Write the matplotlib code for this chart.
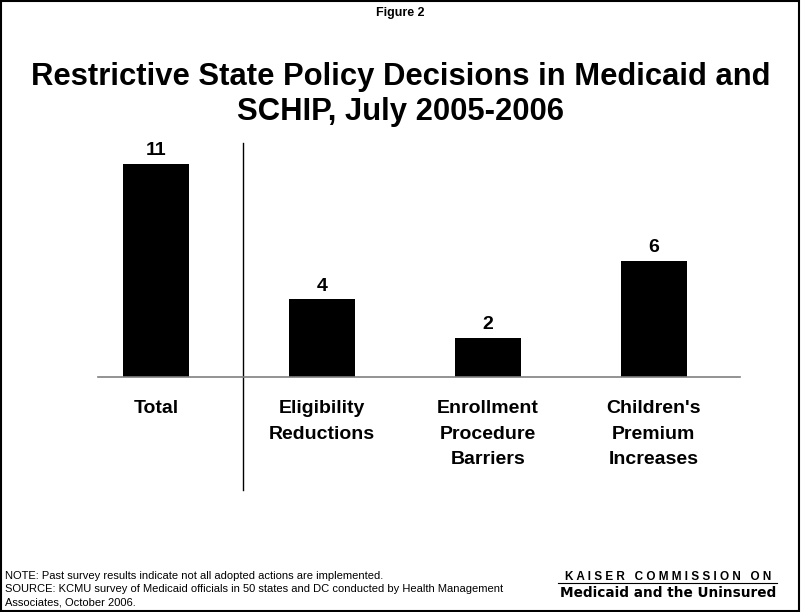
import matplotlib.pyplot as plt
from matplotlib.patches import Rectangle

categories = ["Total", "Eligibility\nReductions", "Enrollment\nProcedure\nBarriers",
              "Children's\nPremium\nIncreases"]
values = [11, 4, 2, 6]

plt.rcParams['font.family'] = ['Liberation Sans', 'DejaVu Sans']

fig = plt.figure(figsize=(8.01, 6.12), dpi=100)
fig.patches.append(Rectangle((0.001, 0.001), 0.997, 0.997, transform=fig.transFigure,
                             fill=False, edgecolor='black', linewidth=1.5))

fig.text(0.5, 0.979, "Figure 2", ha='center', va='center', fontsize=9, fontweight='bold')
fig.text(0.5, 0.846, "Restrictive State Policy Decisions in Medicaid and\nSCHIP, July 2005-2006",
         ha='center', va='center', fontsize=22.3, fontweight='bold', linespacing=1.2)

ax = fig.add_axes([0.1223, 0.384, 0.8015, 0.382])
x = range(len(values))
ax.bar(x, values, width=0.4, color='black')
ax.set_xlim(-0.35, 3.52)
ax.set_ylim(0, 12.06)
for s in ['top', 'right', 'left']:
    ax.spines[s].set_visible(False)
ax.spines['bottom'].set_color('#808080')
ax.spines['bottom'].set_linewidth(1.2)
ax.set_yticks([])
ax.set_xticks([])

for xi, v in zip(x, values):
    ax.text(xi, v + 0.25, str(v), ha='center', va='bottom', fontsize=14, fontweight='bold')

for xi, lab in zip(x, categories):
    ax.text(xi, -1.2, lab, ha='center', va='top', fontsize=14, fontweight='bold',
            linespacing=1.65)

# separator between total and components
ax.plot([0.524, 0.524], [-5.82, 12.06], color='black', linewidth=1, clip_on=False)

fig.text(0.006, 0.067, "NOTE: Past survey results indicate not all adopted actions are implemented.\n"
         "SOURCE: KCMU survey of Medicaid officials in 50 states and DC conducted by Health Management\n"
         "Associates, October 2006.", ha='left', va='top', fontsize=8, linespacing=1.38)

fig.text(0.834, 0.058, "K A I S E R   C O M M I S S I O N   O N", ha='center', va='center',
         fontsize=8.5, fontweight='bold')
fig.add_artist(plt.Line2D([0.697, 0.97], [0.047, 0.047], color='black', linewidth=0.8))
fig.text(0.834, 0.031, "Medicaid and the Uninsured", ha='center', va='center',
         fontsize=9.8, fontweight='heavy', family=['DejaVu Sans'])

fig.savefig("out.png", dpi=100)
